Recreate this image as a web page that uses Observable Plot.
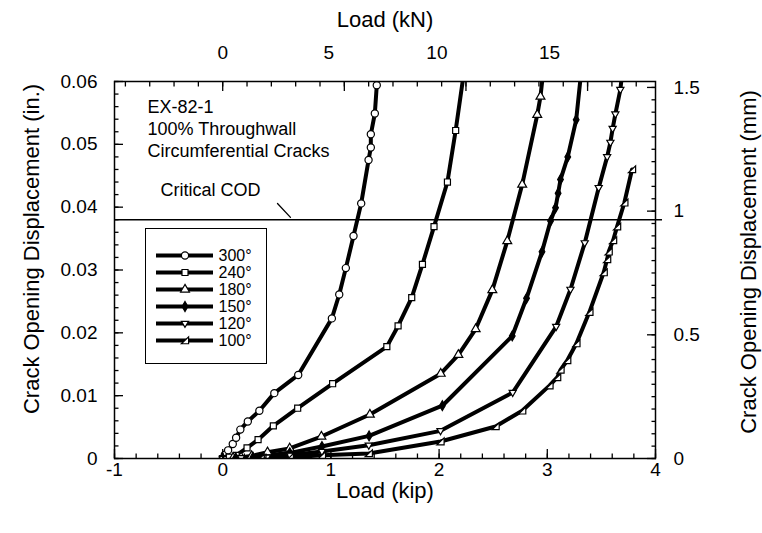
<!DOCTYPE html>
<html><head><meta charset="utf-8">
<script src="https://cdn.jsdelivr.net/npm/d3@7"></script>
<script src="https://cdn.jsdelivr.net/npm/@observablehq/plot@0.6"></script>
<style>
body{margin:0;background:#fff;}
#wrap{position:relative;width:762px;height:533px;font-family:"Liberation Sans",Arial,Helvetica,sans-serif;}
#legend{position:absolute;left:145px;top:228px;border:1.3px solid #000;background:#fff;line-height:0;}
</style></head><body><div id="wrap"></div>
<script>
// ---- data (load in kip, crack opening displacement in inches) ----
const series = ["300°", "240°", "180°", "150°", "120°", "100°"];

const load300 = [0, 0.02, 0.05, 0.093, 0.124, 0.163, 0.232, 0.339, 0.477, 0.698, 1.009, 1.077, 1.138, 1.209, 1.280, 1.348, 1.369, 1.369, 1.406, 1.424];
const cod300  = [0, 0.0006, 0.0013, 0.0023, 0.0033, 0.0046, 0.0059, 0.0076, 0.0104, 0.0133, 0.0223, 0.0261, 0.0303, 0.0354, 0.0406, 0.0475, 0.0495, 0.0516, 0.0549, 0.0594];

const load240 = [0, 0.059, 0.124, 0.225, 0.327, 0.468, 0.693, 1.016, 1.517, 1.621, 1.747, 1.846, 1.953, 2.077, 2.153, 2.23];
const cod240  = [0, 0.0002, 0.0005, 0.0017, 0.0030, 0.0052, 0.0080, 0.0119, 0.0178, 0.0211, 0.0256, 0.0309, 0.0369, 0.0440, 0.0522, 0.0615];

const load180 = [0, 0.096, 0.170, 0.267, 0.414, 0.619, 0.912, 1.360, 2.015, 2.178, 2.338, 2.492, 2.630, 2.768, 2.907, 2.937, 2.96];
const cod180  = [0, 0.0001, 0.0002, 0.0004, 0.0010, 0.0016, 0.0035, 0.0070, 0.0135, 0.0165, 0.0206, 0.0268, 0.0346, 0.0436, 0.0547, 0.0576, 0.0612];

const load150 = [0, 0.12, 0.28, 0.62, 0.917, 1.353, 2.030, 2.676, 2.808, 2.951, 3.030, 3.076, 3.100, 3.122, 3.189, 3.267, 3.31];
const cod150  = [0, 0.0001, 0.0002, 0.0009, 0.0019, 0.0036, 0.0084, 0.0195, 0.0255, 0.0329, 0.0378, 0.0399, 0.0422, 0.0444, 0.0480, 0.0539, 0.0610];

const load120 = [0, 0.17, 0.41, 0.62, 0.917, 1.35, 2.013, 2.680, 3.082, 3.214, 3.346, 3.475, 3.553, 3.583, 3.604, 3.629, 3.675, 3.69];
const cod120  = [0, 0.0001, 0.0002, 0.0005, 0.0011, 0.0021, 0.0044, 0.0105, 0.0210, 0.0269, 0.0343, 0.0431, 0.0480, 0.0503, 0.0525, 0.0548, 0.0587, 0.0610];

const load100 = [0, 0.35, 0.62, 0.917, 1.35, 2.013, 2.522, 2.768, 3.020, 3.091, 3.122, 3.184, 3.269, 3.389, 3.521, 3.553, 3.567, 3.608, 3.645, 3.712, 3.783];
const cod100  = [0, 0.0001, 0.0002, 0.0005, 0.0008, 0.0027, 0.0051, 0.0076, 0.0116, 0.0129, 0.0141, 0.0156, 0.0183, 0.0233, 0.0296, 0.0317, 0.0329, 0.0347, 0.0369, 0.0407, 0.0460];

const criticalCOD = 0.038;
const annotation = "EX-82-1\n100% Throughwall\nCircumferential Cracks";
const criticalLabel = "Critical COD";

// tick values
const kipTicks = [-1, 0, 1, 2, 3, 4];
const codTicks = [0, 0.01, 0.02, 0.03, 0.04, 0.05, 0.06];
const mmTicks = [0, 0.5, 1, 1.5];
const kNTickLabels = ["0", "5", "10", "15"];
const kNLabelKip = [0, 0.98, 1.98, 3.02];   // where the kN labels sit
const KN_PER_KIP = 4.448;
const MM_PER_IN = 25.4;

// ---- derived ----
const loads = [load300, load240, load180, load150, load120, load100];
const cods = [cod300, cod240, cod180, cod150, cod120, cod100];
const rows = series.flatMap((s, i) => loads[i].map((x, j) => ({series: s, load: x, cod: cods[i][j]})));

const kipMinor = d3.range(-1, 4.0001, 0.2).map(v => +v.toFixed(2));
const codMinor = d3.range(0, 0.06001, 0.002).map(v => +v.toFixed(4));
const kNMinor = d3.range(-4, 18, 1).map(v => v / KN_PER_KIP);
const kNMajor = [0, 5, 10, 15].map(v => v / KN_PER_KIP);
const mmMinor = d3.range(0, 1.5001, 0.05).map(v => v / MM_PER_IN);
const mmMajor = mmTicks.map(v => v / MM_PER_IN);
const kNLabelMap = new Map(kNLabelKip.map((k, i) => [k, kNTickLabels[i]]));
const mmLabelMap = new Map(mmMajor.map((v, i) => [v, String(mmTicks[i])]));

// symbols
function poly(pts) {
  return {draw(ctx, size) {
    const r = Math.sqrt(size / Math.PI);
    pts.forEach(([x, y], k) => k ? ctx.lineTo(x * r, y * r) : ctx.moveTo(x * r, y * r));
    ctx.closePath();
  }};
}
const triDown = poly([[0, 1.15], [-1.05, -0.65], [1.05, -0.65]]);
const triRight = poly([[-1.0, 0.9], [1.0, 0.9], [1.0, -1.0]]);
const symbols = ["circle", "square", "triangle", "diamond", triDown, triRight];
const fills = ["white", "white", "white", "black", "white", "white"];
const radii = [3.6, 3.4, 3.3, 3.0, 3.4, 3.6];

const FS = 19;
const TITLE = 22;
const lineShape = {draw(ctx, l) { ctx.moveTo(0, 0); ctx.lineTo(0, -l); }};

const chart = Plot.plot({
  width: 762, height: 533,
  marginLeft: 114, marginRight: 107, marginTop: 81, marginBottom: 75,
  x: {domain: [-1, 4]},
  y: {domain: [0, 0.06]},
  style: {fontFamily: '"Liberation Sans", Arial, Helvetica, sans-serif', color: "black", background: "white", overflow: "visible"},
  marks: [
    Plot.ruleY([criticalCOD], {stroke: "black", strokeWidth: 1.3, insetRight: -7}),
    Plot.line(rows, {x: "load", y: "cod", z: "series", stroke: "black", strokeWidth: 4, strokeLinejoin: "round", clip: true}),
    ...series.map((s, i) => Plot.dot(rows.filter(d => d.series === s), {
      x: "load", y: "cod", symbol: symbols[i], r: radii[i], fill: fills[i], stroke: "black", strokeWidth: 1.2, clip: true
    })),
    Plot.frame({stroke: "black", strokeWidth: 1.5}),
    // bottom axis (kip)
    Plot.axisX(kipMinor, {anchor: "bottom", tickSize: -4.5, fill: "none", strokeWidth: 1.3}),
    Plot.axisX(kipTicks, {anchor: "bottom", tickSize: -9, fill: "none", strokeWidth: 1.3}),
    Plot.axisX(kipTicks, {anchor: "bottom", tickSize: 0, tickPadding: 4, tickFormat: d => String(d), fontSize: FS, label: null}),
    // top axis (kN)
    Plot.axisX(kNMinor, {anchor: "top", tickSize: -4.5, fill: "none", strokeWidth: 1.3}),
    Plot.axisX(kNMajor, {anchor: "top", tickSize: -9, fill: "none", strokeWidth: 1.3}),
    Plot.axisX(kNLabelKip, {anchor: "top", tickSize: 0, tickPadding: 23, tickFormat: d => kNLabelMap.get(d), fontSize: FS, label: null}),
    // left axis (in.)
    Plot.axisY(codMinor, {anchor: "left", tickSize: -4.5, fill: "none", strokeWidth: 1.3}),
    Plot.axisY(codTicks, {anchor: "left", tickSize: -9, fill: "none", strokeWidth: 1.3}),
    Plot.axisY(codTicks, {anchor: "left", tickSize: 0, tickPadding: 17, tickFormat: d => d === 0 ? "0" : d.toFixed(2), fontSize: FS, label: null}),
    // right axis (mm)
    Plot.axisY(mmMinor, {anchor: "right", tickSize: -4.5, fill: "none", strokeWidth: 1.3}),
    Plot.axisY(mmMajor, {anchor: "right", tickSize: -9, fill: "none", strokeWidth: 1.3}),
    Plot.axisY(mmMajor, {anchor: "right", tickSize: 0, tickPadding: 18, tickFormat: d => mmLabelMap.get(d), fontSize: FS, label: null}),
    // axis titles
    Plot.text(["Load (kip)"], {frameAnchor: "bottom", dy: 32, textAnchor: "middle", lineAnchor: "middle", fontSize: TITLE}),
    Plot.text(["Load (kN)"], {frameAnchor: "top", dy: -62, textAnchor: "middle", lineAnchor: "middle", fontSize: TITLE}),
    Plot.text(["Crack Opening Displacement (in.)"], {frameAnchor: "left", dx: -83, dy: -21, rotate: -90, textAnchor: "middle", lineAnchor: "middle", fontSize: TITLE}),
    Plot.text(["Crack Opening Displacement (mm)"], {frameAnchor: "right", dx: 93, dy: -8, rotate: -90, textAnchor: "middle", lineAnchor: "middle", fontSize: TITLE}),
    // annotations
    Plot.text([annotation], {frameAnchor: "top-left", dx: 33, dy: 15.5, textAnchor: "start", lineAnchor: "top", lineHeight: 1.22, fontSize: 18}),
    Plot.text([criticalLabel], {frameAnchor: "top-left", dx: 46, dy: 102, textAnchor: "start", lineAnchor: "top", fontSize: 18}),
    Plot.vector([criticalLabel], {frameAnchor: "top-left", dx: 163, dy: 122, length: 19, rotate: 137, anchor: "start", shape: lineShape, stroke: "black", strokeWidth: 1.3})
  ]
});

const legend = Plot.plot({
  width: 120, height: 134, margin: 0,
  y: {type: "point", domain: series, range: [16.5, 119.5], axis: null},
  style: {fontFamily: '"Liberation Sans", Arial, Helvetica, sans-serif', color: "black", background: "white"},
  marks: [
    Plot.ruleY(series, {y: d => d, insetLeft: 10, insetRight: 53, stroke: "black", strokeWidth: 4}),
    ...series.map((s, i) => Plot.dot([s], {y: d => d, frameAnchor: "left", dx: 38.5, symbol: symbols[i], r: radii[i], fill: fills[i], stroke: "black", strokeWidth: 1.2})),
    Plot.text(series, {y: d => d, frameAnchor: "left", dx: 72, textAnchor: "start", fontSize: 16})
  ]
});

const wrap = document.getElementById("wrap");
wrap.appendChild(chart);
const lg = document.createElement("div");
lg.id = "legend";
lg.appendChild(legend);
wrap.appendChild(lg);
</script>
</body></html>
